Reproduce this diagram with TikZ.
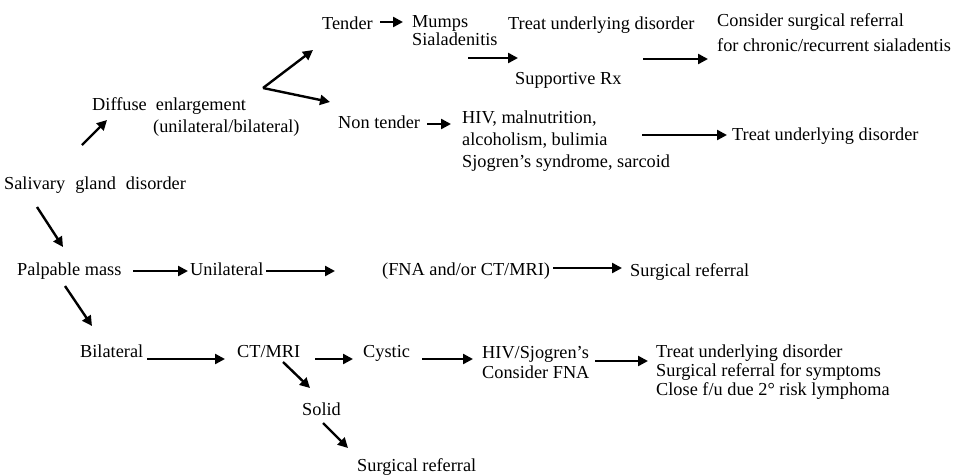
\documentclass[tikz,border=0pt]{standalone}
\usepackage{fontspec}
\setmainfont{Liberation Serif}
\usetikzlibrary{arrows.meta,calc}
\begin{document}
\begin{tikzpicture}[x=1pt,y=-1pt,
  lbl/.style={anchor=base west,inner sep=0pt,align=left,font=\fontsize{18.3}{22}\selectfont},
  arr/.style={line width=2.4pt,-{Triangle[length=10pt,width=10pt]}}]
\useasboundingbox (0,0) rectangle (962,475);
% nodes (multi-line nodes are placed at the baseline of their last line)
\node[lbl] (sal) at (4,189) {Salivary\hspace{0.3em} gland\hspace{0.3em} disorder};
\node[lbl] (dif) at (92,132) {Diffuse\hspace{0.25em} enlargement\\\hspace*{61pt}(unilateral/bilateral)};
\node[lbl] (tend) at (322,29) {Tender};
\node[lbl] (mumps) at (412,45) {Mumps\\[-4pt]Sialadenitis};
\node[lbl] (treat1) at (508,29) {Treat underlying disorder};
\node[lbl] (supp) at (515,84) {Supportive Rx};
\node[lbl] (cons) at (717,51) {Consider surgical referral\\[3pt]for chronic/recurrent sialadentis};
\node[lbl] (nont) at (338,128) {Non tender};
\node[lbl] (hiv) at (462,167) {HIV, malnutrition,\\alcoholism, bulimia\\Sjogren’s syndrome, sarcoid};
\node[lbl] (treat2) at (732,140) {Treat underlying disorder};
\node[lbl] (pal) at (17,275) {Palpable mass};
\node[lbl] (uni) at (190,275) {Unilateral};
\node[lbl] (fna) at (382,275) {(FNA and/or CT/MRI)};
\node[lbl] (surg1) at (630,276) {Surgical referral};
\node[lbl] (bil) at (80,357) {Bilateral};
\node[lbl] (ct) at (237,357) {CT/MRI};
\node[lbl] (cys) at (363,357) {Cystic};
\node[lbl] (hivs) at (482,378) {HIV/Sjogren’s\\[-2pt]Consider FNA};
\node[lbl] (treat3) at (656,395) {Treat underlying disorder\\[-3pt]Surgical referral for symptoms\\[-3pt]Close f/u due 2° risk lymphoma};
\node[lbl] (solid) at (302,415) {Solid};
\node[lbl] (surg2) at (357,471) {Surgical referral};
% connectors
\draw[arr] ($(sal.base west)+(78,-44)$) -- ($(dif.base west)+(15,-12)$);
\coordinate (v) at ($(dif.base west)+(171,-44)$);
\draw[arr] (v) -- ($(tend.base west)+(-9,21)$);
\draw[arr] (v) -- ($(nont.base west)+(-8,-26)$);
\draw[arr] ($(tend.base west)+(58,-7)$) -- ($(mumps.base west)+(-9,-23)$);
\draw[arr] ($(mumps.base west)+(56,13)$) -- ($(supp.base west)+(3,-26)$);
\draw[arr] ($(supp.base west)+(128,-25)$) -- ($(cons.base west)+(-9,8)$);
\draw[arr] ($(nont.base west)+(89,-4)$) -- ($(hiv.base west)+(-11,-43)$);
\draw[arr] ($(hiv.base west)+(180,-32)$) -- ($(treat2.base west)+(-5,-5)$);
\draw[arr] ($(sal.base west)+(33,18)$) -- ($(pal.base west)+(46,-28)$);
\draw[arr] ($(pal.base west)+(116,-4)$) -- ($(uni.base west)+(-2,-4)$);
\draw[arr] ($(uni.base west)+(76,-4)$) -- ($(fna.base west)+(-47,-4)$);
\draw[arr] ($(fna.base west)+(171,-7)$) -- ($(surg1.base west)+(-8,-8)$);
\draw[arr] ($(pal.base west)+(48,11)$) -- ($(bil.base west)+(12,-31)$);
\draw[arr] ($(bil.base west)+(67,2)$) -- ($(ct.base west)+(-12,2)$);
\draw[arr] ($(ct.base west)+(78,2)$) -- ($(cys.base west)+(-10,2)$);
\draw[arr] ($(cys.base west)+(59,2)$) -- ($(hivs.base west)+(-9,-19)$);
\draw[arr] ($(hivs.base west)+(113,-17)$) -- ($(treat3.base west)+(-8,-34)$);
\draw[arr] ($(ct.base west)+(46,5)$) -- ($(solid.base west)+(8,-27)$);
\draw[arr] ($(solid.base west)+(21,8)$) -- ($(surg2.base west)+(-9,-23)$);
\end{tikzpicture}
\end{document}
